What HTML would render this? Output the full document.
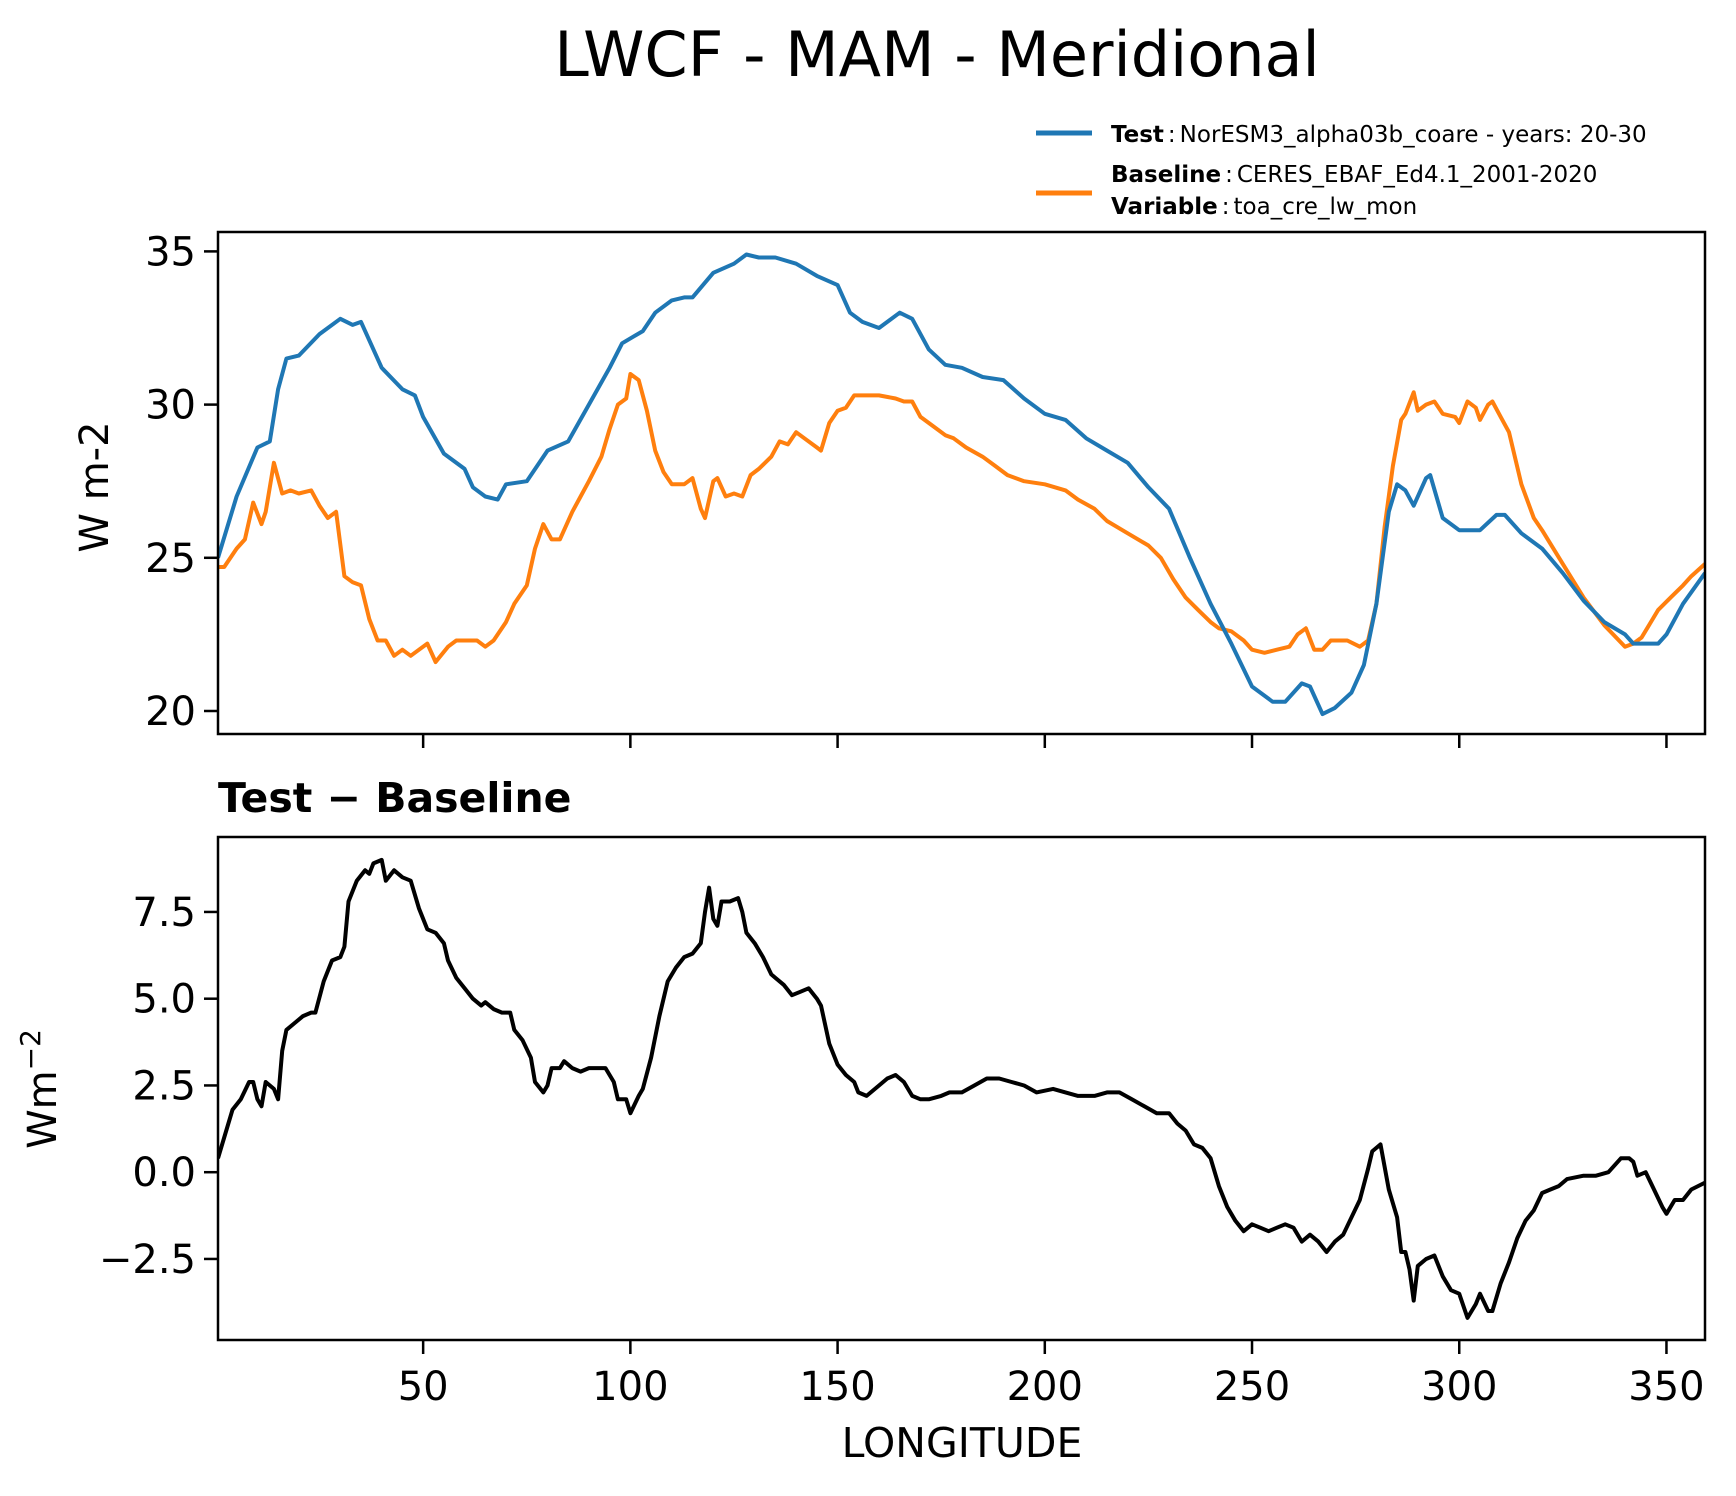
<!DOCTYPE html>
<html><head><meta charset="utf-8"><style>
html,body{margin:0;padding:0;background:#fff;}
svg{display:block;font-family:"DejaVu Sans","Liberation Sans",sans-serif;}
</style></head><body>
<svg id="fig" width="1736" height="1496" viewBox="0 0 1736 1496" xmlns="http://www.w3.org/2000/svg">
<rect width="1736" height="1496" fill="#fff"/>
<text x="937" y="76" font-size="62" text-anchor="middle">LWCF - MAM - Meridional</text>
<g>
<line x1="1036" y1="133" x2="1092" y2="133" stroke="#1f77b4" stroke-width="5"/>
<text x="1111" y="142" font-size="23"><tspan font-weight="bold">Test</tspan><tspan dx="4">:</tspan><tspan dx="4">NorESM3_alpha03b_coare - years: 20-30</tspan></text>
<line x1="1036" y1="193" x2="1092" y2="193" stroke="#ff7f0e" stroke-width="5"/>
<text x="1111" y="182" font-size="23"><tspan font-weight="bold">Baseline</tspan><tspan dx="4">:</tspan><tspan dx="4">CERES_EBAF_Ed4.1_2001-2020</tspan></text>
<text x="1111" y="214" font-size="23"><tspan font-weight="bold">Variable</tspan><tspan dx="4">:</tspan><tspan dx="4">toa_cre_lw_mon</tspan></text>
</g>
<g id="topg"></g>
<g id="botg"></g>
<text transform="translate(108,487) rotate(-90)" font-size="40" text-anchor="middle">W m-2</text>
<text transform="translate(56,1089) rotate(-90)" font-size="40" text-anchor="middle">Wm<tspan dy="-16" font-size="28">−2</tspan></text>
<text x="218" y="812" font-size="41" font-weight="bold">Test − Baseline</text>
<text x="962" y="1457" font-size="41" text-anchor="middle">LONGITUDE</text>
</svg>
<script>
const testLon=[0.5,5,10,13,15,17,20,25,30,33,35,40,45,48,50,55,60,62,65,68,70,75,80,85,90,95,98,103,106,110,113,115,120,125,128,131,135,140,145,150,153,156,160,165,168,172,176,180,185,190,195,200,205,210,215,220,225,230,235,240,245,250,255,258,262,264,267,270,274,277,280,283,285,287,289,292,293,296,300,303,305,309,311,315,320,325,330,335,340,342,345,348,350,354,359.3];
const testVal=[25.0,27.0,28.6,28.8,30.5,31.5,31.6,32.3,32.8,32.6,32.7,31.2,30.5,30.3,29.6,28.4,27.9,27.3,27.0,26.9,27.4,27.5,28.5,28.8,30.0,31.2,32.0,32.4,33.0,33.4,33.5,33.5,34.3,34.6,34.9,34.8,34.8,34.6,34.2,33.9,33.0,32.7,32.5,33.0,32.8,31.8,31.3,31.2,30.9,30.8,30.2,29.7,29.5,28.9,28.5,28.1,27.3,26.6,25.0,23.5,22.2,20.8,20.3,20.3,20.9,20.8,19.9,20.1,20.6,21.5,23.5,26.5,27.4,27.2,26.7,27.6,27.7,26.3,25.9,25.9,25.9,26.4,26.4,25.8,25.3,24.5,23.6,22.9,22.5,22.2,22.2,22.2,22.5,23.5,24.5];
const baseLon=[0.5,2,5,7,9,11,12,14,16,18,20,23,25,27,29,31,33,35,37,39,41,43,45,47,49,51,53,56,58,60,63,65,67,70,72,75,77,79,81,83,86,88,90,93,95,97,99,100,102,104,106,108,110,113,115,117,118,120,121,123,125,127,129,131,134,136,138,140,142,145,146,148,150,152,154,157,160,164,166,168,170,173,176,178,181,185,188,191,195,200,205,208,212,215,220,225,228,231,234,237,240,242,245,248,250,253,256,259,261,263,265,267,269,273,276,278,280,282,284,286,287,289,290,292,294,296,299,300,302,304,305,307,308,310,312,315,318,320,325,330,335,340,342,344,348,351,354,356,359.3];
const baseVal=[24.7,24.7,25.3,25.6,26.8,26.1,26.5,28.1,27.1,27.2,27.1,27.2,26.7,26.3,26.5,24.4,24.2,24.1,23.0,22.3,22.3,21.8,22.0,21.8,22.0,22.2,21.6,22.1,22.3,22.3,22.3,22.1,22.3,22.9,23.5,24.1,25.3,26.1,25.6,25.6,26.5,27.0,27.5,28.3,29.2,30.0,30.2,31.0,30.8,29.8,28.5,27.8,27.4,27.4,27.6,26.6,26.3,27.5,27.6,27.0,27.1,27.0,27.7,27.9,28.3,28.8,28.7,29.1,28.9,28.6,28.5,29.4,29.8,29.9,30.3,30.3,30.3,30.2,30.1,30.1,29.6,29.3,29.0,28.9,28.6,28.3,28.0,27.7,27.5,27.4,27.2,26.9,26.6,26.2,25.8,25.4,25.0,24.3,23.7,23.3,22.9,22.7,22.6,22.3,22.0,21.9,22.0,22.1,22.5,22.7,22.0,22.0,22.3,22.3,22.1,22.3,23.5,26.0,28.0,29.5,29.7,30.4,29.8,30.0,30.1,29.7,29.6,29.4,30.1,29.9,29.5,30.0,30.1,29.6,29.1,27.4,26.3,25.9,24.8,23.7,22.8,22.1,22.2,22.4,23.3,23.7,24.1,24.4,24.8];
const diffLon=[0.5,2,4,6,8,9,10,11,12,14,15,16,17,19,21,23,24,26,28,30,31,32,34,36,37,38,40,41,43,45,47,49,51,53,55,56,58,60,62,64,65,67,69,71,72,74,76,77,79,80,81,83,84,86,88,90,92,94,96,97,99,100,102,103,105,107,109,111,113,115,117,118,119,120,121,122,124,126,127,128,130,132,134,135,137,139,141,143,145,146,148,150,152,154,155,157,160,162,164,166,168,170,172,175,177,180,183,186,189,192,195,198,202,205,208,212,215,218,221,224,227,230,232,234,236,238,240,242,244,246,248,250,252,254,256,258,260,262,264,266,268,270,272,274,276,278,279,281,283,285,286,287,288,289,290,292,294,296,298,300,302,304,305,307,308,310,312,314,316,318,320,322,324,326,330,333,336,339,341,342,343,345,347,349,350,352,354,356,359.3];
const diffVal=[0.4,1.0,1.8,2.1,2.6,2.6,2.1,1.9,2.6,2.4,2.1,3.5,4.1,4.3,4.5,4.6,4.6,5.5,6.1,6.2,6.5,7.8,8.4,8.7,8.6,8.9,9.0,8.4,8.7,8.5,8.4,7.6,7.0,6.9,6.6,6.1,5.6,5.3,5.0,4.8,4.9,4.7,4.6,4.6,4.1,3.8,3.3,2.6,2.3,2.5,3.0,3.0,3.2,3.0,2.9,3.0,3.0,3.0,2.6,2.1,2.1,1.7,2.2,2.4,3.3,4.5,5.5,5.9,6.2,6.3,6.6,7.5,8.2,7.3,7.1,7.8,7.8,7.9,7.5,6.9,6.6,6.2,5.7,5.6,5.4,5.1,5.2,5.3,5.0,4.8,3.7,3.1,2.8,2.6,2.3,2.2,2.5,2.7,2.8,2.6,2.2,2.1,2.1,2.2,2.3,2.3,2.5,2.7,2.7,2.6,2.5,2.3,2.4,2.3,2.2,2.2,2.3,2.3,2.1,1.9,1.7,1.7,1.4,1.2,0.8,0.7,0.4,-0.4,-1.0,-1.4,-1.7,-1.5,-1.6,-1.7,-1.6,-1.5,-1.6,-2.0,-1.8,-2.0,-2.3,-2.0,-1.8,-1.3,-0.8,0.1,0.6,0.8,-0.5,-1.3,-2.3,-2.3,-2.8,-3.7,-2.7,-2.5,-2.4,-3.0,-3.4,-3.5,-4.2,-3.8,-3.5,-4.0,-4.0,-3.2,-2.6,-1.9,-1.4,-1.1,-0.6,-0.5,-0.4,-0.2,-0.1,-0.1,0.0,0.4,0.4,0.3,-0.1,0.0,-0.5,-1.0,-1.2,-0.8,-0.8,-0.5,-0.3];
const xTicks=[50,100,150,200,250,300,350];
const xTickLabels=["50","100","150","200","250","300","350"];
const topYTicks=[20,25,30,35];
const topYTickLabels=["20","25","30","35"];
const botYTicks=[-2.5,0,2.5,5,7.5];
const botYTickLabels=["−2.5","0.0","2.5","5.0","7.5"];

const NS="http://www.w3.org/2000/svg";
const L=218,R=1705,XMIN=0.5,XMAX=359.3;
function xs(v){return L+(v-XMIN)/(XMAX-XMIN)*(R-L);}
const topAx={t:232,b:734,y:v=>711-(v-20)*30.64};
const botAx={t:837,b:1340,y:v=>1172.2-v*34.7};
function mk(parent,tag,attrs){const e=document.createElementNS(NS,tag);for(const k in attrs)e.setAttribute(k,attrs[k]);parent.appendChild(e);return e;}
function drawLine(parent,lon,val,ys,color,name){
  const d=lon.map((x,i)=>(i?'L':'M')+xs(x).toFixed(1)+','+ys(val[i]).toFixed(1)).join(' ');
  const p=mk(parent,'path',{d:d,fill:'none',stroke:color,'stroke-width':4,'stroke-linejoin':'round'});
  
  
}
function axes(parent,ax,yt,ytl,showXLabels,prefix){
  const clip=mk(parent,'clipPath',{id:prefix+'clip'});
  mk(clip,'rect',{x:L,y:ax.t,width:R-L,height:ax.b-ax.t});
  yt.forEach((v,i)=>{
    const y=ax.y(v);
    const t=mk(parent,'line',{x1:L-14,x2:L,y1:y,y2:y,stroke:'#000','stroke-width':2.5});
    
    
    const tx=mk(parent,'text',{x:L-22,y:y+14,'font-size':40,'text-anchor':'end'});
    tx.textContent=ytl[i];
    
    
  });
  xTicks.forEach((v,i)=>{
    const x=xs(v);
    const t=mk(parent,'line',{x1:x,x2:x,y1:ax.b,y2:ax.b+14,stroke:'#000','stroke-width':2.5});
    
    
    if(showXLabels){
      const tx=mk(parent,'text',{x:x,y:ax.b+60,'font-size':40,'text-anchor':'middle'});
      tx.textContent=xTickLabels[i];
      
      
    }
  });
}
function frame(parent,ax,prefix){
  const f=mk(parent,'rect',{x:L,y:ax.t,width:R-L,height:ax.b-ax.t,fill:'none',stroke:'#000','stroke-width':2.5});
  
  
}
const gt=document.getElementById('topg'), gb=document.getElementById('botg');
axes(gt,topAx,topYTicks,topYTickLabels,false,'top-');
const gtl=mk(gt,'g',{'clip-path':'url(#top-clip)'});
drawLine(gtl,baseLon,baseVal,topAx.y,'#ff7f0e','baseline-line');
drawLine(gtl,testLon,testVal,topAx.y,'#1f77b4','test-line');
frame(gt,topAx,'top-');
axes(gb,botAx,botYTicks,botYTickLabels,true,'bottom-');
const gbl=mk(gb,'g',{'clip-path':'url(#bottom-clip)'});
drawLine(gbl,diffLon,diffVal,botAx.y,'#000','difference-line');
frame(gb,botAx,'bottom-');
</script>
</body></html>
